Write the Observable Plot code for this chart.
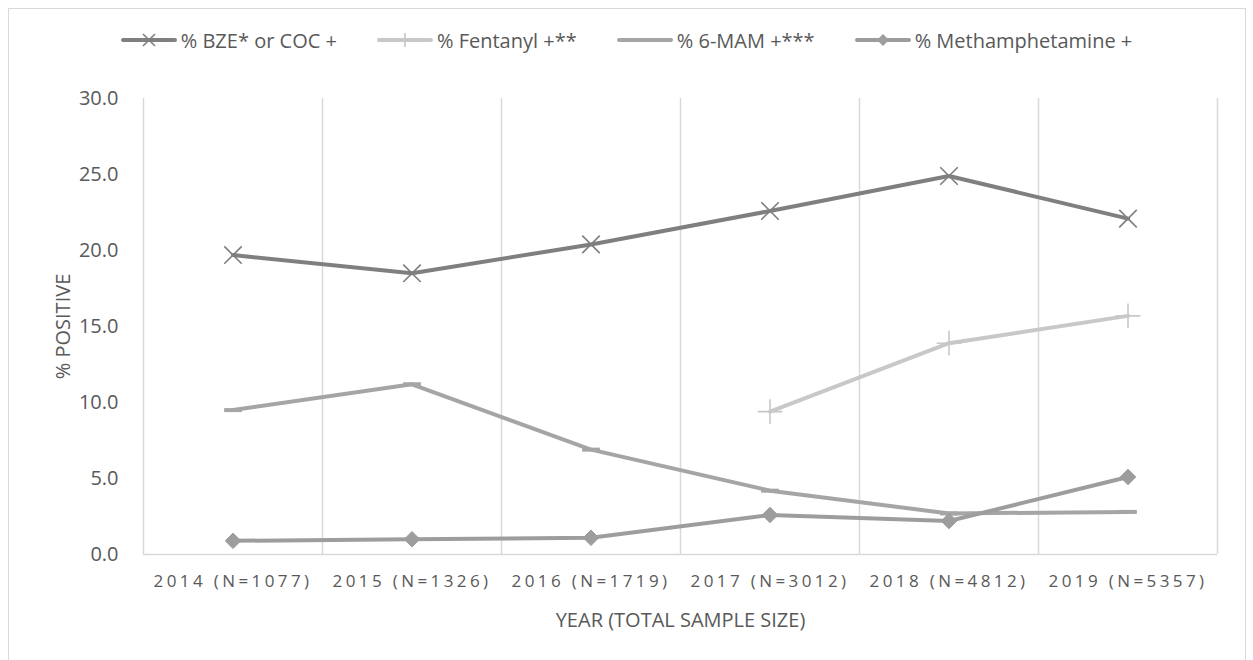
<!DOCTYPE html>
<html>
<head>
<meta charset="utf-8">
<script src="https://cdn.jsdelivr.net/npm/d3@7"></script>
<script src="https://cdn.jsdelivr.net/npm/@observablehq/plot@0.6"></script>
<style>
  html, body { margin: 0; padding: 0; background: #fff; overflow: hidden; }
  body { width: 1253px; height: 660px; position: relative; font-family: "Open Sans", sans-serif; color: #595959; }
  #frame { position: absolute; left: 8px; top: 8px; width: 1238px; height: 700px; border: 1px solid #d9d9d9; box-sizing: border-box; }
  #legend { position: absolute; left: 0; top: 0; width: 1253px; height: 80px; display: flex; justify-content: center; align-items: center; gap: 40px; box-sizing: border-box; font-size: 20px; }
  #legend .item { display: flex; align-items: center; gap: 4px; white-space: nowrap; }
  #chart { position: absolute; left: 0; top: 70px; }
  #chart text { font-family: "Open Sans", sans-serif; }
</style>
</head>
<body>
<div id="frame"></div>
<div id="legend"></div>
<div id="chart"></div>
<script>
// ---- data ----
const categories = ["2014 (N=1077)", "2015 (N=1326)", "2016 (N=1719)", "2017 (N=3012)", "2018 (N=4812)", "2019 (N=5357)"];
const seriesNames = ["% BZE* or COC +", "% Fentanyl +**", "% 6-MAM +***", "% Methamphetamine +"];
const bze      = [19.7, 18.5, 20.4, 22.6, 24.9, 22.1];
const fentanyl = [null, null, null, 9.4, 13.9, 15.7];
const mam      = [9.5, 11.2, 6.9, 4.2, 2.7, 2.8];
const meth     = [0.9, 1.0, 1.1, 2.6, 2.2, 5.1];
const yTicks   = [0, 5, 10, 15, 20, 25, 30];

// ---- styles ----
const colors  = ["#7f7f7f", "#c8c8c8", "#a5a5a5", "#9d9d9d"];
const dash = { draw(context, size) { const w = Math.sqrt(size) * 1.0; context.moveTo(-w, 0); context.lineTo(w, 0); } };
const symbols = ["times", "plus", dash, "diamond2"];

const allValues = [bze, fentanyl, mam, meth];
const rows = [];
allValues.forEach((vals, s) => vals.forEach((v, i) => {
  if (v != null) rows.push({ series: seriesNames[s], s, i, x: i + 0.5, value: v });
}));

const width = 1253, height = 590;
const marks = [
  Plot.ruleX(d3.range(0, 7), { y1: 0, y2: 30, stroke: "#d9d9d9", strokeWidth: 1.5 }),
  Plot.ruleY([0], { x1: 0, x2: 6, stroke: "#d9d9d9", strokeWidth: 1.5 }),
  Plot.axisY({ ticks: yTicks, tickFormat: d => d.toFixed(1), tickSize: 0, tickPadding: 25, fontSize: 20, color: "#595959",
               label: "% POSITIVE", labelAnchor: "center", labelOffset: 88, labelArrow: false }),
  Plot.axisX({ ticks: d3.range(6).map(i => i + 0.5), tickFormat: d => categories[Math.floor(d)], tickSize: 0, tickPadding: 20,
               fontSize: 17, color: "#595959", label: "YEAR (TOTAL SAMPLE SIZE)", labelAnchor: "center", labelOffset: 72, labelArrow: false })
];
seriesNames.forEach((name, s) => {
  const data = rows.filter(d => d.s === s);
  marks.push(Plot.line(data, { x: "x", y: "value", stroke: colors[s], strokeWidth: 4, strokeLinejoin: "round" }));
  if (s === 3) {
    marks.push(Plot.dot(data, { x: "x", y: "value", symbol: symbols[s], r: 7, fill: colors[s], stroke: colors[s], strokeWidth: 1 }));
  } else if (s === 2) {
    marks.push(Plot.dot(data, { x: "x", y: "value", symbol: symbols[s], r: 5, stroke: colors[s], strokeWidth: 4 }));
  } else {
    marks.push(Plot.dot(data, { x: "x", y: "value", symbol: symbols[s], r: 8, stroke: colors[s], strokeWidth: 1.6 }));
  }
});

const chart = Plot.plot({
  width, height,
  marginLeft: 143, marginRight: 36, marginTop: 28, marginBottom: 106,
  x: { domain: [0, 6], axis: null },
  y: { domain: [0, 30], axis: null },
  style: { background: "transparent", color: "#595959" },
  marks
});
document.getElementById("chart").append(chart);
chart.querySelectorAll("g[aria-label='x-axis tick label'] text").forEach(t => t.setAttribute("letter-spacing", "3.4"));
chart.querySelectorAll("g[aria-label='x-axis label'] text, g[aria-label='y-axis label'] text").forEach(t => t.setAttribute("font-size", "20"));

// ---- legend ----
const legend = d3.select("#legend");
seriesNames.forEach((name, s) => {
  const item = legend.append("div").attr("class", "item");
  const svg = item.append("svg").attr("width", 56).attr("height", 20);
  svg.append("line").attr("x1", 2).attr("x2", 54).attr("y1", 10).attr("y2", 10)
    .attr("stroke", colors[s]).attr("stroke-width", 4).attr("stroke-linecap", "round");
  const g = svg.append("g").attr("transform", "translate(28,10)");
  if (s === 0) g.append("path").attr("d", "M-6,-6L6,6M-6,6L6,-6").attr("stroke", colors[s]).attr("stroke-width", 1.6);
  if (s === 1) g.append("path").attr("d", "M-7,0L7,0M0,-7L0,7").attr("stroke", colors[s]).attr("stroke-width", 1.6);
  if (s === 3) g.append("path").attr("d", "M0,-6L6,0L0,6L-6,0Z").attr("fill", colors[s]);
  item.append("span").text(name);
});
</script>
</body>
</html>
